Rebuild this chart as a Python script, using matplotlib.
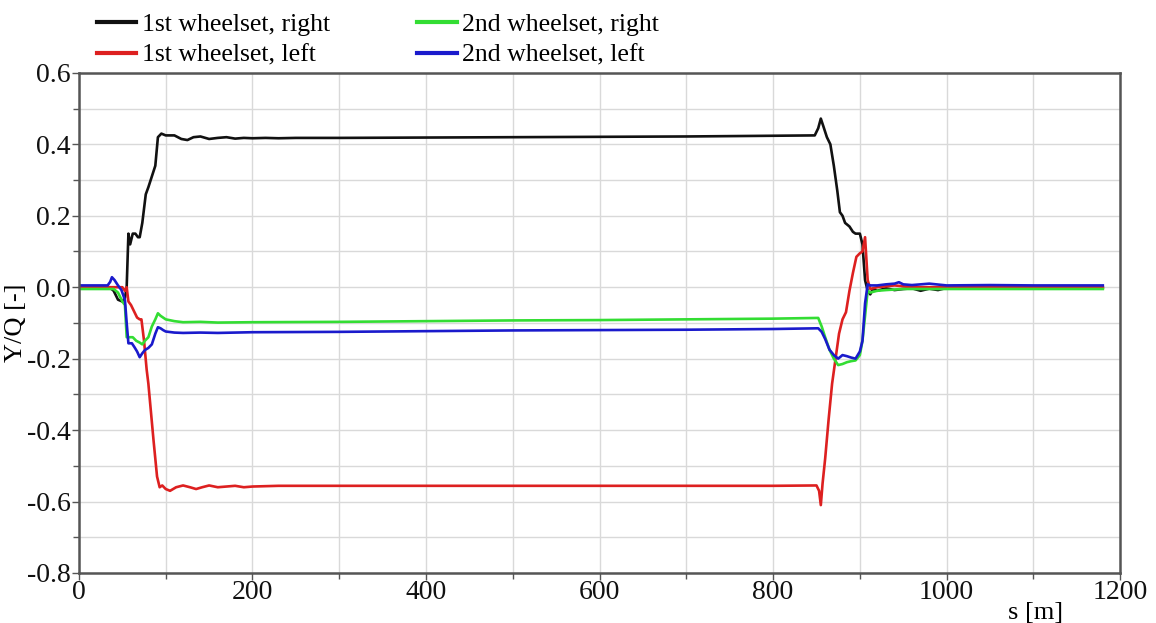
import matplotlib
matplotlib.use("Agg")
import matplotlib.pyplot as plt
from matplotlib.ticker import MultipleLocator

# ---- data ----
x_w1_right = [0, 35, 40, 45, 50, 53, 55, 57, 59, 62, 65, 68, 70, 73, 77, 80, 84, 88, 91, 95, 100, 110,
              118, 125, 132, 140, 150, 160, 170, 180, 190, 200, 215, 230, 250, 300, 400, 500, 600, 700,
              800, 848, 852, 855, 858, 862, 866, 870, 874, 877, 880, 883, 888, 892, 895, 900, 903, 906,
              909, 912, 915, 920, 930, 940, 950, 960, 970, 980, 990, 1000, 1020, 1050, 1100, 1180]
y_w1_right = [0, 0, -0.01, -0.035, -0.04, -0.03, 0.0, 0.15, 0.12, 0.15, 0.15, 0.14, 0.14, 0.18, 0.26,
              0.28, 0.31, 0.34, 0.42, 0.43, 0.425, 0.425, 0.415, 0.412, 0.42, 0.422, 0.415, 0.418, 0.42,
              0.416, 0.418, 0.417, 0.418, 0.417, 0.418, 0.418, 0.419, 0.42, 0.421, 0.422, 0.424, 0.425,
              0.445, 0.472, 0.45, 0.42, 0.40, 0.34, 0.27, 0.21, 0.20, 0.18, 0.17, 0.155, 0.15, 0.15, 0.12,
              0.02, -0.01, -0.02, -0.005, -0.01, -0.003, -0.008, -0.005, -0.003, -0.01, -0.004, -0.008,
              -0.002, -0.003, -0.002, -0.002, -0.002]

x_w1_left = [0, 45, 50, 53, 55, 57, 60, 64, 67, 70, 72, 75, 78, 80, 83, 86, 90, 93, 96, 100, 105, 112,
             120, 128, 135, 142, 150, 160, 170, 180, 190, 200, 215, 230, 250, 300, 400, 500, 600, 700,
             800, 850, 853, 855, 857, 860, 864, 868, 872, 876, 880, 884, 888, 892, 896, 900, 903, 906,
             909, 912, 920, 940, 960, 1000, 1100, 1180]
y_w1_left = [0, 0, 0, -0.01, 0.0, -0.04, -0.05, -0.07, -0.085, -0.09, -0.09, -0.15, -0.23, -0.27, -0.35,
             -0.43, -0.53, -0.56, -0.555, -0.565, -0.57, -0.56, -0.555, -0.56, -0.565, -0.56, -0.555,
             -0.56, -0.558, -0.556, -0.56, -0.558, -0.557, -0.556, -0.556, -0.556, -0.556, -0.556,
             -0.556, -0.556, -0.556, -0.555, -0.57, -0.61, -0.55, -0.48, -0.37, -0.27, -0.2, -0.13,
             -0.09, -0.07, -0.01, 0.04, 0.085, 0.095, 0.10, 0.14, 0.02, -0.005, 0.0, 0.005, 0.0, 0.0,
             0.0, 0.0]

x_w2_right = [0, 40, 45, 50, 53, 55, 58, 62, 66, 70, 73, 76, 80, 84, 88, 91, 94, 97, 100, 110, 120, 140,
              160, 200, 300, 400, 500, 600, 700, 800, 852, 856, 860, 865, 870, 875, 880, 885, 890, 895,
              900, 903, 906, 909, 912, 920, 930, 950, 1000, 1100, 1180]
y_w2_right = [-0.005, -0.005, -0.015, -0.04, -0.05, -0.14, -0.14, -0.14, -0.15, -0.155, -0.16, -0.15,
              -0.14, -0.11, -0.09, -0.073, -0.08, -0.085, -0.09, -0.095, -0.098, -0.097, -0.099, -0.098,
              -0.097, -0.095, -0.093, -0.092, -0.09, -0.088, -0.086, -0.11, -0.14, -0.175, -0.2, -0.218,
              -0.215, -0.21, -0.207, -0.205, -0.19, -0.15, -0.08, -0.01, -0.015, -0.01, -0.008, -0.005,
              -0.005, -0.005, -0.005]

x_w2_left = [0, 33, 36, 38, 41, 45, 49, 53, 55, 57, 61, 64, 67, 70, 73, 76, 80, 84, 88, 91, 94, 97, 100,
             110, 120, 140, 160, 200, 300, 400, 500, 600, 700, 800, 852, 856, 860, 865, 870, 875, 880,
             885, 890, 895, 900, 903, 906, 909, 912, 920, 930, 940, 945, 950, 960, 980, 1000, 1050,
             1100, 1180]
y_w2_left = [0.005, 0.005, 0.015, 0.028, 0.02, 0.005, -0.008, -0.036, -0.1, -0.157, -0.157, -0.168,
             -0.18, -0.196, -0.185, -0.176, -0.17, -0.16, -0.13, -0.112, -0.115, -0.12, -0.124, -0.127,
             -0.128, -0.127, -0.128, -0.126, -0.125, -0.123, -0.121, -0.12, -0.119, -0.117, -0.115,
             -0.125, -0.145, -0.175, -0.19, -0.2, -0.19, -0.193, -0.197, -0.2, -0.18, -0.15, -0.045,
             0.008, 0.005, 0.005, 0.008, 0.01, 0.014, 0.008, 0.006, 0.01, 0.005, 0.006, 0.005, 0.005]

labels = ["1st wheelset, right", "1st wheelset, left", "2nd wheelset, right", "2nd wheelset, left"]
colors = ["#111111", "#dd2020", "#33dd33", "#1a1acc"]

x_ticks = [0, 200, 400, 600, 800, 1000, 1200]
y_ticks = [-0.8, -0.6, -0.4, -0.2, 0.0, 0.2, 0.4, 0.6]

# ---- figure ----
plt.rcParams['font.family'] = ['Liberation Serif', 'DejaVu Serif']
fig = plt.figure(figsize=(11.56, 6.23), dpi=100)
ax = fig.add_axes([0.0683, 0.0803, 0.9007, 0.8027])

series = [(x_w1_right, y_w1_right), (x_w1_left, y_w1_left),
          (x_w2_right, y_w2_right), (x_w2_left, y_w2_left)]
for (xs, ys), lab, c in zip(series, labels, colors):
    ax.plot(xs, ys, color=c, lw=1.9, label=lab)

ax.set_xlim(0, 1200)
ax.set_ylim(-0.8, 0.6)
ax.set_xticks(x_ticks)
ax.set_xticklabels([str(t) for t in x_ticks])
ax.set_yticks(y_ticks)
ax.set_yticklabels([f"{t:.1f}" for t in y_ticks])
ax.xaxis.set_minor_locator(MultipleLocator(100))
ax.yaxis.set_minor_locator(MultipleLocator(0.1))
ax.grid(True, which='both', color='#d9d9d9', lw=1.0)
ax.set_axisbelow(True)
ax.tick_params(which='both', direction='out', labelsize=20, colors='#555555', labelcolor='#111111')
ax.tick_params(which='major', length=5, width=1)
ax.tick_params(which='minor', length=4, width=1)
ax.tick_params(axis='x', pad=0)
ax.tick_params(axis='y', pad=1)
for s in ax.spines.values():
    s.set_color('#555555')
    s.set_linewidth(1.8)

ax.set_ylabel("Y/Q [-]", fontsize=19, labelpad=0)
ax.text(0.892, -0.058, "s [m]", transform=ax.transAxes, fontsize=19, ha='left', va='top')

leg = ax.legend(ncol=2, loc='lower left', bbox_to_anchor=(0.017, 1.012), frameon=False,
                fontsize=18.5, handlelength=1.55, handletextpad=0.2, columnspacing=3.4,
                labelspacing=0.3, borderaxespad=0.0, borderpad=0.0)
for line in leg.get_lines():
    line.set_linewidth(3)

fig.savefig("out.png", dpi=100)
